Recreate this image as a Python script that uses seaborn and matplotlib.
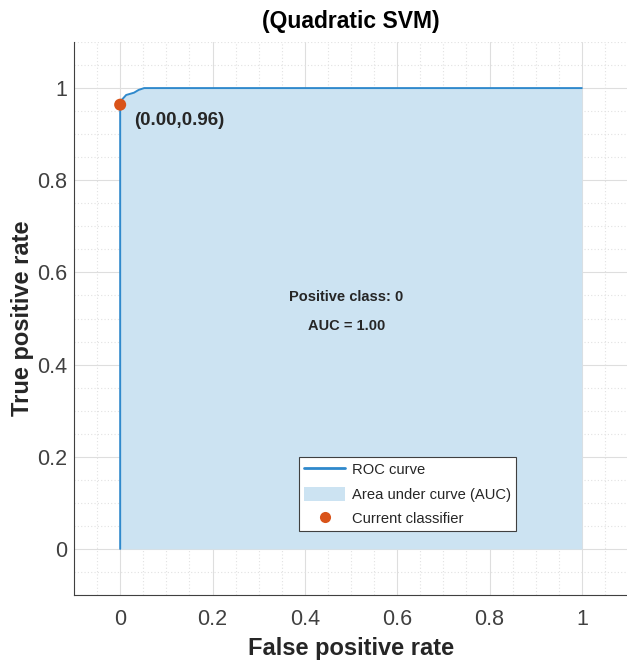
import matplotlib
matplotlib.use("Agg")
import matplotlib.pyplot as plt
import seaborn as sns
import pandas as pd
from matplotlib.ticker import MultipleLocator
from matplotlib.patches import Patch
from matplotlib.lines import Line2D

# data
fpr = [0.0, 0.0, 0.004, 0.013, 0.03, 0.04, 0.052, 1.0]
tpr = [0.0, 0.96, 0.975, 0.985, 0.99, 0.996, 1.0, 1.0]
current_fpr = [0.0]
current_tpr = [0.964]
auc_value = 1.00
positive_class = 0
title = "(Quadratic SVM)"
ticks = [0, 0.2, 0.4, 0.6, 0.8, 1.0]
tick_labels = ["0", "0.2", "0.4", "0.6", "0.8", "1"]

LINE_COLOR = "#2f89cc"
FILL_COLOR = "#CCE3F2"
DOT_COLOR = "#D95319"
TEXT_COLOR = "#262626"
TICK_COLOR = "#404040"

sns.set_style("white")
plt.rcParams["font.family"] = ["Liberation Sans", "DejaVu Sans"]

fig = plt.figure(figsize=(6.27, 6.61), dpi=100)
ax = fig.add_axes([74 / 627, 66 / 661, 554 / 627, 553 / 661])

roc = pd.DataFrame({"fpr": fpr, "tpr": tpr})
ax.fill_between(roc["fpr"], 0, roc["tpr"], color=FILL_COLOR, lw=0, zorder=1)
sns.lineplot(data=roc, x="fpr", y="tpr", sort=False, estimator=None,
             color=LINE_COLOR, lw=1.4, ax=ax, zorder=3)
sns.scatterplot(x=current_fpr, y=current_tpr, color=DOT_COLOR, s=75,
                edgecolor="none", ax=ax, zorder=4)

ax.set_xlim(-0.1, 1.1)
ax.set_ylim(-0.1, 1.1)
ax.xaxis.set_minor_locator(MultipleLocator(0.05))
ax.yaxis.set_minor_locator(MultipleLocator(0.05))
ax.set_xticks(ticks)
ax.set_xticklabels(tick_labels)
ax.set_yticks(ticks)
ax.set_yticklabels(tick_labels)

ax.grid(True, which="major", color="#dedede", lw=0.8, zorder=0)
ax.grid(True, which="minor", color="#e2e2e2", lw=0.8, ls=(0, (1, 2)), zorder=0)
ax.set_axisbelow(True)

for side in ["top", "right"]:
    ax.spines[side].set_visible(False)
for side in ["left", "bottom"]:
    ax.spines[side].set_color("#404040")
    ax.spines[side].set_linewidth(0.8)

ax.tick_params(axis="both", which="major", direction="in", length=3,
               labelsize=15.5, colors=TICK_COLOR, width=0.6)
ax.tick_params(axis="x", which="major", pad=10)
ax.tick_params(axis="y", which="major", pad=5)
ax.tick_params(axis="both", which="minor", length=0)

ax.set_xlabel("False positive rate", fontsize=17, fontweight="bold",
              color=TEXT_COLOR, labelpad=5)
ax.set_ylabel("True positive rate", fontsize=17, fontweight="bold",
              color=TEXT_COLOR, labelpad=2)
ax.set_title(title, fontsize=16.5, fontweight="bold", color="black", pad=10)

ax.text(current_fpr[0] + 0.03, current_tpr[0] - 0.035,
        f"({current_fpr[0]:.2f},{current_tpr[0]:.2f})",
        fontsize=13.5, fontweight="bold", color=TEXT_COLOR, va="center", zorder=5)
ax.text(0.49, 0.547, f"Positive class: {positive_class}", fontsize=10.5,
        fontweight="bold", color=TEXT_COLOR, ha="center", va="center")
ax.text(0.49, 0.484, f"AUC = {auc_value:.2f}", fontsize=10.5,
        fontweight="bold", color=TEXT_COLOR, ha="center", va="center")

handles = [
    Line2D([0], [0], color=LINE_COLOR, lw=2),
    Patch(facecolor=FILL_COLOR, edgecolor="none"),
    Line2D([0], [0], marker="o", color="none", markerfacecolor=DOT_COLOR,
           markeredgecolor="none", markersize=8),
]
leg = ax.legend(handles, ["ROC curve", "Area under curve (AUC)", "Current classifier"],
                loc="lower right", bbox_to_anchor=(516 / 627, 1 - 531 / 661),
                bbox_transform=fig.transFigure, fontsize=10.6, frameon=True,
                fancybox=False, framealpha=1, borderpad=0.35, labelspacing=0.62,
                handlelength=2.8, handleheight=1.1, handletextpad=0.45,
                borderaxespad=0)
leg.get_frame().set_edgecolor("#404040")
leg.get_frame().set_linewidth(0.8)
for t in leg.get_texts():
    t.set_color(TEXT_COLOR)

fig.savefig("out.png", dpi=100)
